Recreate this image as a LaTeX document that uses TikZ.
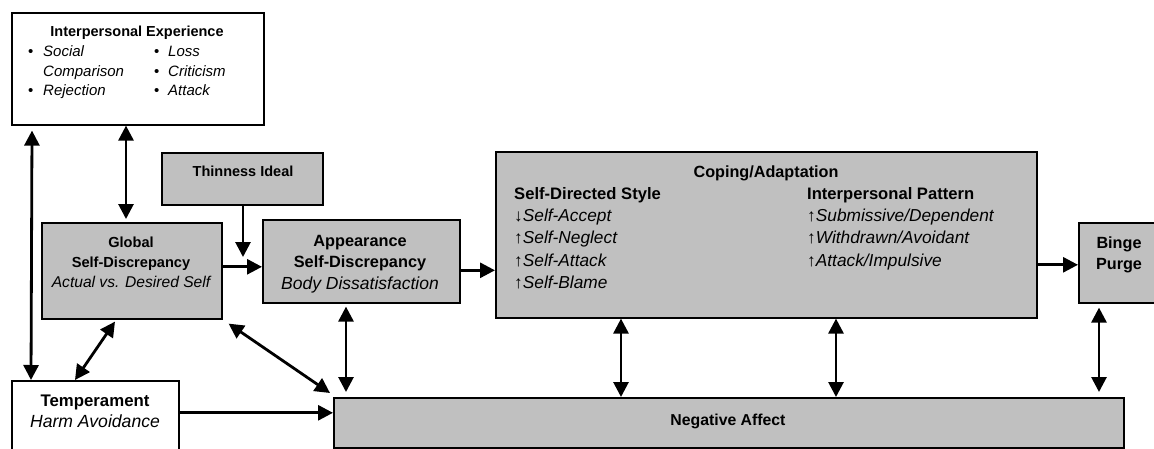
\documentclass[tikz,border=0pt]{standalone}
\usepackage{fontspec}
\setmainfont{Liberation Sans}
\usetikzlibrary{arrows.meta}
\definecolor{boxgray}{RGB}{192,192,192}
\newcommand{\myfs}[1]{\fontsize{#1}{#1}\selectfont}
\begin{document}
\begin{tikzpicture}[x=1pt,y=-1pt,
  box/.style={draw=black, line width=1.6pt, anchor=north west, inner sep=0pt},
  gbox/.style={box, fill=boxgray},
  txt/.style={inner sep=0pt, text height=11pt, text depth=3pt},
  arr/.style={line width=2.8pt, -{Triangle[length=15pt,width=15pt]}},
  darr/.style={line width=2.8pt, {Triangle[length=15pt,width=15pt]}-{Triangle[length=15pt,width=15pt]}},
]
\useasboundingbox (0,0) rectangle (1154,448);

% boxes
\node[box, minimum width=252pt, minimum height=112pt] (ie) at (11,12) {};
\node[gbox, minimum width=161pt, minimum height=52pt] (thin) at (161,152) {};
\node[gbox, minimum width=180pt, minimum height=96pt] (glob) at (41,222) {};
\node[gbox, minimum width=197pt, minimum height=83pt] (app) at (262,219) {};
\node[gbox, minimum width=541pt, minimum height=166pt] (cop) at (495,151) {};
\node[gbox, minimum width=95pt, minimum height=80pt] (binge) at (1078,222) {};
\node[gbox, minimum width=790pt, minimum height=50pt] (neg) at (333,397) {};
\node[box, minimum width=167pt, minimum height=80pt] (temp) at (11,380) {};

% Interpersonal Experience
\node[txt, font=\myfs{14.5}\bfseries] (ieT) at (137,32) {Interpersonal Experience};
\node[txt, anchor=west, font=\myfs{15}] (ie1) at (28,52) {\makebox[15pt][l]{•}\textit{Social}};
\node[txt, anchor=west, font=\myfs{15}\itshape] (ie2) at (43,72) {Comparison};
\node[txt, anchor=west, font=\myfs{15}] (ie3) at (28,91) {\makebox[15pt][l]{•}\textit{Rejection}};
\node[txt, anchor=west, font=\myfs{15}] (ie4) at (154,52) {\makebox[14pt][l]{•}\textit{Loss}};
\node[txt, anchor=west, font=\myfs{15}] (ie5) at (154,72) {\makebox[14pt][l]{•}\textit{Criticism}};
\node[txt, anchor=west, font=\myfs{15}] (ie6) at (154,91) {\makebox[14pt][l]{•}\textit{Attack}};

% Thinness
\node[txt, font=\myfs{14.5}\bfseries] (thinT) at (243,172) {Thinness Ideal};

% Global
\node[txt, font=\myfs{14.6}\bfseries] (glob1) at (131,243) {Global};
\node[txt, font=\myfs{14.6}\bfseries] (glob2) at (131,263) {Self-Discrepancy};
\node[txt, font=\myfs{15.6}\itshape] (glob3) at (131,283) {Actual vs. Desired Self};

% Appearance
\node[txt, font=\myfs{16.3}\bfseries] (app1) at (360,242) {Appearance};
\node[txt, font=\myfs{16.3}\bfseries] (app2) at (360,263) {Self-Discrepancy};
\node[txt, font=\myfs{17.5}\itshape] (app3) at (360,285) {Body Dissatisfaction};

% Coping
\node[txt, font=\myfs{16.2}\bfseries] (copT) at (766,173) {Coping/Adaptation};
\node[txt, anchor=west, font=\myfs{16.6}\bfseries] (sdT) at (514,195) {Self-Directed Style};
\node[txt, anchor=west, font=\myfs{17.3}] (sd1) at (514,217) {↓\textit{Self-Accept}};
\node[txt, anchor=west, font=\myfs{17.3}] (sd2) at (514,239) {↑\textit{Self-Neglect}};
\node[txt, anchor=west, font=\myfs{17.3}] (sd3) at (514,262) {↑\textit{Self-Attack}};
\node[txt, anchor=west, font=\myfs{17.3}] (sd4) at (514,284) {↑\textit{Self-Blame}};
\node[txt, anchor=west, font=\myfs{16.6}\bfseries] (ipT) at (807,195) {Interpersonal Pattern};
\node[txt, anchor=west, font=\myfs{17.3}] (ip1) at (807,217) {↑\textit{Submissive/Dependent}};
\node[txt, anchor=west, font=\myfs{17.3}] (ip2) at (807,239) {↑\textit{Withdrawn/Avoidant}};
\node[txt, anchor=west, font=\myfs{17.3}] (ip3) at (807,262) {↑\textit{Attack/Impulsive}};

% Binge
\node[txt, font=\myfs{16.2}\bfseries] (b1) at (1119,244) {Binge};
\node[txt, font=\myfs{16.2}\bfseries] (b2) at (1119,265) {Purge};

% Negative affect
\node[txt, font=\myfs{15.8}\bfseries] (negT) at (728,421) {Negative Affect};

% Temperament
\node[txt, font=\myfs{16.8}\bfseries] (t1) at (95,402) {Temperament};
\node[txt, font=\myfs{17.6}\itshape] (t2) at (95,423) {Harm Avoidance};

% connectors
\coordinate (thinEnd) at (243,257);
\draw[darr] ([xshift=115pt]ie.south west) -- ([xshift=85pt,yshift=3pt]glob.north west);
\draw[darr] ([xshift=21pt,yshift=-5pt]ie.south west) -- ([xshift=20pt]temp.north west);
\draw[arr] ([xshift=82pt]thin.south west) -- (thinEnd);
\draw[arr] ([yshift=4pt]glob.east) -- ([yshift=4pt]glob.east -| app.west);
\draw[arr] ([yshift=-9pt]app.east) -- ([yshift=-9pt]app.east -| cop.west);
\draw[arr] ([yshift=-2pt]binge.west -| cop.east) -- ([yshift=-2pt]binge.west);
\draw[darr] ([xshift=74pt,yshift=-2pt]glob.south west) -- ([xshift=64pt]temp.north west);
\draw[darr] ([xshift=6pt,yshift=-4pt]glob.south east) -- ([xshift=-3pt,yshift=4pt]neg.north west);
\draw[darr] ([xshift=84pt,yshift=-3pt]app.south west) -- ([xshift=13pt,yshift=5pt]neg.north west);
\draw[darr] ([xshift=126pt]cop.south west) -- ([xshift=288pt]neg.north west);
\draw[darr] ([xshift=341pt]cop.south west) -- ([xshift=503pt]neg.north west);
\draw[darr] ([xshift=21pt,yshift=-4pt]binge.south west) -- ([xshift=766pt,yshift=5pt]neg.north west);
\draw[arr] ([yshift=8pt]temp.east) -- ([yshift=8pt]temp.east -| neg.west);
\end{tikzpicture}
\end{document}
